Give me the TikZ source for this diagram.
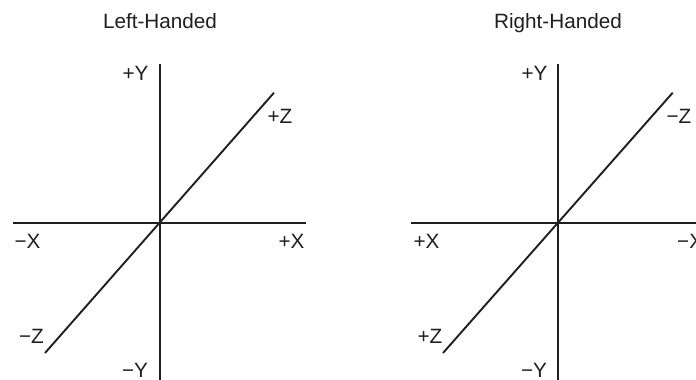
\documentclass[tikz,border=0pt]{standalone}
\usepackage{fontspec}
\setmainfont{Liberation Sans}
\tikzset{lbl/.style={font=\fontsize{20.7pt}{24pt}\selectfont,text=black!88,inner sep=0pt,anchor=base},axisline/.style={line width=1.9pt,black!88},vline/.style={line width=1.9pt,black!88}}
\begin{document}
\begin{tikzpicture}[x=1pt,y=-1pt]
\useasboundingbox (0,0) rectangle (696,380);
\clip (0,0) rectangle (696,380);
\node[lbl] (t1) at (160,28) {Left-Handed};
\node[lbl] (t2) at (558,28) {Right-Handed};
% left
\coordinate (ax1l) at (13,223); \coordinate (ax1r) at (306,223);
\coordinate (ay1t) at (160,63.5); \coordinate (ay1b) at (160,380);
\coordinate (az1t) at (274,92.7); \coordinate (az1b) at (45,353);
\draw[axisline] (ax1l) -- (ax1r);
\draw[vline] (ay1t) -- (ay1b);
\draw[axisline] (az1t) -- (az1b);
\node[lbl] (a1) at (135.5,80.5) {+Y};
\node[lbl] (a2) at (280,123) {+Z};
\node[lbl] (a3) at (27.5,248) {−X};
\node[lbl] (a4) at (291.5,248) {+X};
\node[lbl] (a5) at (31.5,343) {−Z};
\node[lbl] (a6) at (135,377) {−Y};
% right
\coordinate (ax2l) at (411,223); \coordinate (ax2r) at (696,223);
\coordinate (ay2t) at (558,63.5); \coordinate (ay2b) at (558,380);
\coordinate (az2t) at (672.7,92.7); \coordinate (az2b) at (443,353);
\draw[axisline] (ax2l) -- (ax2r);
\draw[vline] (ay2t) -- (ay2b);
\draw[axisline] (az2t) -- (az2b);
\node[lbl] (b1) at (534.5,80.5) {+Y};
\node[lbl] (b2) at (679,123) {−Z};
\node[lbl] (b3) at (426.5,248) {+X};
\node[lbl,anchor=base west] (b4) at (677,248) {−X};
\node[lbl] (b5) at (430,343) {+Z};
\node[lbl] (b6) at (534,377) {−Y};
\end{tikzpicture}
\end{document}
